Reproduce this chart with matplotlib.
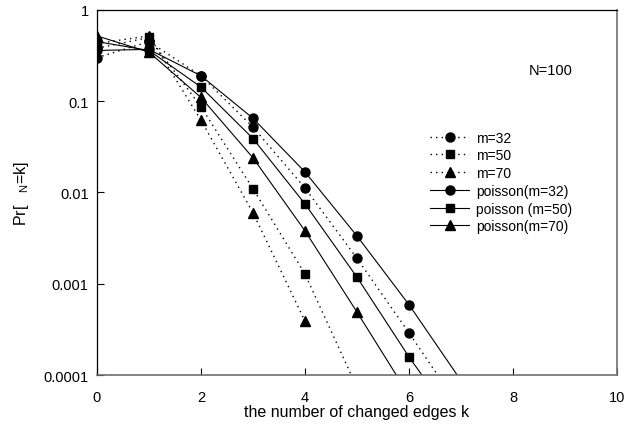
import matplotlib
matplotlib.use("Agg")
import matplotlib.pyplot as plt
import numpy as np

plt.rcParams['font.family'] = ['Liberation Sans', 'DejaVu Sans']

k = [0, 1, 2, 3, 4, 5, 6, 7]

# simulated (dotted)
sim_m32 = [0.30, 0.45, 0.19, 0.052, 0.0112, 0.0019, 0.00029, 0.000042]
sim_m50 = [0.38, 0.50, 0.087, 0.011, 0.00128, 0.000073]
sim_m70 = [0.43, 0.52, 0.062, 0.006, 0.00039]

# poisson (solid)
poi_m32 = [0.36, 0.37, 0.19, 0.065, 0.0168, 0.00334, 0.00059, 0.000087]
poi_m50 = [0.45, 0.36, 0.143, 0.039, 0.0075, 0.00118, 0.000158, 0.000025]
poi_m70 = [0.52, 0.345, 0.11, 0.024, 0.0038, 0.00049, 0.00006]

labels = ["m=32", "m=50", "m=70", "poisson(m=32)", "poisson (m=50)", "poisson(m=70)"]

fig = plt.figure(figsize=(6.38, 4.39), dpi=100)
ax = fig.add_axes([0.152, 0.1435, 0.815, 0.8315])

dot = (0, (1, 3))
ms = 6.5
ax.plot(k[:len(sim_m32)], sim_m32, color='black', ls=dot, lw=1, marker='o', ms=ms, label=labels[0])
ax.plot(k[:len(sim_m50)], sim_m50, color='black', ls=dot, lw=1, marker='s', ms=ms - 0.5, label=labels[1])
ax.plot(k[:len(sim_m70)], sim_m70, color='black', ls=dot, lw=1, marker='^', ms=ms, label=labels[2])
ax.plot(k[:len(poi_m32)], poi_m32, color='black', ls='-', lw=0.8, marker='o', ms=ms, label=labels[3])
ax.plot(k[:len(poi_m50)], poi_m50, color='black', ls='-', lw=0.8, marker='s', ms=ms - 0.5, label=labels[4])
ax.plot(k[:len(poi_m70)], poi_m70, color='black', ls='-', lw=0.8, marker='^', ms=ms, label=labels[5])

ax.set_yscale('log')
ax.set_xlim(0, 10)
ax.set_ylim(0.0001, 1)
ax.set_xticks([0, 2, 4, 6, 8, 10])
ax.set_yticks([0.0001, 0.001, 0.01, 0.1, 1])
ax.set_yticklabels(['0.0001', '0.001', '0.01', '0.1', '1'])
ax.yaxis.set_minor_locator(matplotlib.ticker.NullLocator())
ax.tick_params(direction='in', length=5, width=0.8, labelsize=10.5, pad=6, colors='black')
ax.tick_params(axis='x', pad=11)

for s in ['left', 'top']:
    ax.spines[s].set_color('black')
    ax.spines[s].set_linewidth(0.9)
for s in ['right', 'bottom']:
    ax.spines[s].set_color('#707070')
    ax.spines[s].set_linewidth(1.2)

ax.set_xlabel('the number of changed edges k', fontsize=11.5, labelpad=0)
ax.set_ylabel(r'Pr[   $\mathregular{_N}$=k]', fontsize=11.5, labelpad=9)

ax.text(8.3, 0.22, 'N=100', fontsize=10.5, va='center', ha='left')

leg = ax.legend(loc='upper left', bbox_to_anchor=(0.63, 0.685), frameon=False,
                fontsize=10, handlelength=2.8, handletextpad=0.5, labelspacing=0.27,
                borderaxespad=0)

fig.savefig('out.png', dpi=100)
